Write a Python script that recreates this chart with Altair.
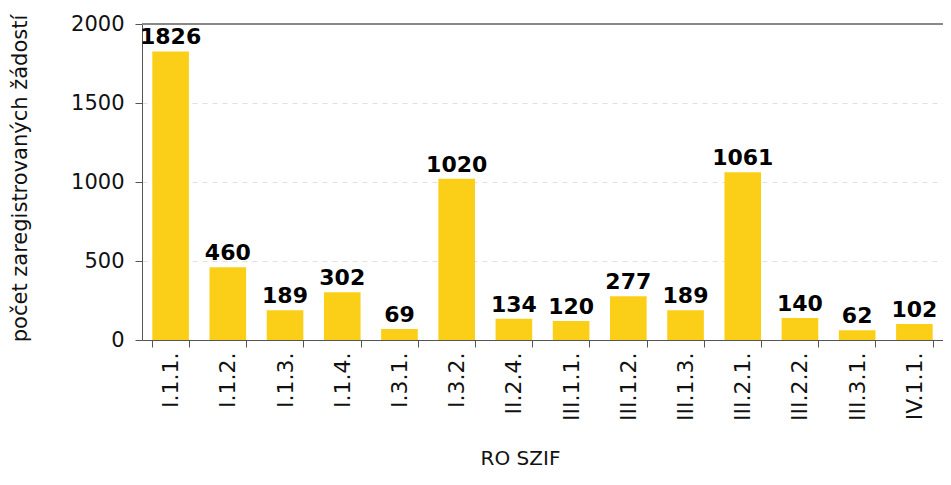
import altair as alt
import pandas as pd

categories = ["I.1.1.", "I.1.2.", "I.1.3.", "I.1.4.", "I.3.1.", "I.3.2.", "II.2.4.",
              "III.1.1.", "III.1.2.", "III.1.3.", "III.2.1.", "III.2.2.", "III.3.1.", "IV.1.1."]
values = [1826, 460, 189, 302, 69, 1020, 134, 120, 277, 189, 1061, 140, 62, 102]

df = pd.DataFrame({"kat": categories, "n": values})
FONT = "DejaVu Sans"
W, H = 801, 316

x = alt.X("kat:N", sort=categories, title="RO SZIF",
          scale=alt.Scale(paddingInner=0.36, paddingOuter=0.18),
          axis=alt.Axis(labelAngle=-90, labelAlign="right", labelBaseline="middle",
                        labelFontSize=22, labelFont=FONT, labelColor="#111",
                        labelPadding=5, tickSize=7, tickBand="extent",
                        tickColor="#555", domainColor="#555",
                        titleFontSize=20, titleFont=FONT, titleFontWeight="normal",
                        titleColor="#111", titleX=378, titleY=124,
                        titleAlign="center", titleBaseline="alphabetic"))
y = alt.Y("n:Q", title="počet zaregistrovaných žádostí",
          scale=alt.Scale(domain=[0, 2000]),
          axis=alt.Axis(values=[0, 500, 1000, 1500, 2000], format="d", labelFontSize=21,
                        labelFont=FONT, labelColor="#111", labelPadding=11, tickSize=7,
                        tickColor="#555", domainColor="#555",
                        gridDash=[5, 5], gridColor="#e0e0e0",
                        titleFontSize=21, titleFont=FONT, titleFontWeight="normal",
                        titleColor="#111", titleX=-112, titleY=154))

base = alt.Chart(df)
bars = base.mark_bar(color="#FBCF17").encode(x=x, y=y)
labels = base.mark_text(baseline="alphabetic", dy=-7, fontSize=22, fontWeight="bold",
                        font=FONT, color="#000").encode(x=x, y=y, text="n:Q")
top = alt.Chart(df).mark_rule(color="#888", strokeWidth=1).encode(
    x=alt.value(0), x2=alt.value(W), y=alt.value(0))

chart = (bars + labels + top).properties(
    width=W, height=H,
    autosize=alt.AutoSizeParams(type="none"),
    padding={"left": 134, "top": 16, "right": 0, "bottom": 131},
).configure_view(stroke=None)

chart.save("out.html", embed_options={"renderer": "svg", "actions": False})
